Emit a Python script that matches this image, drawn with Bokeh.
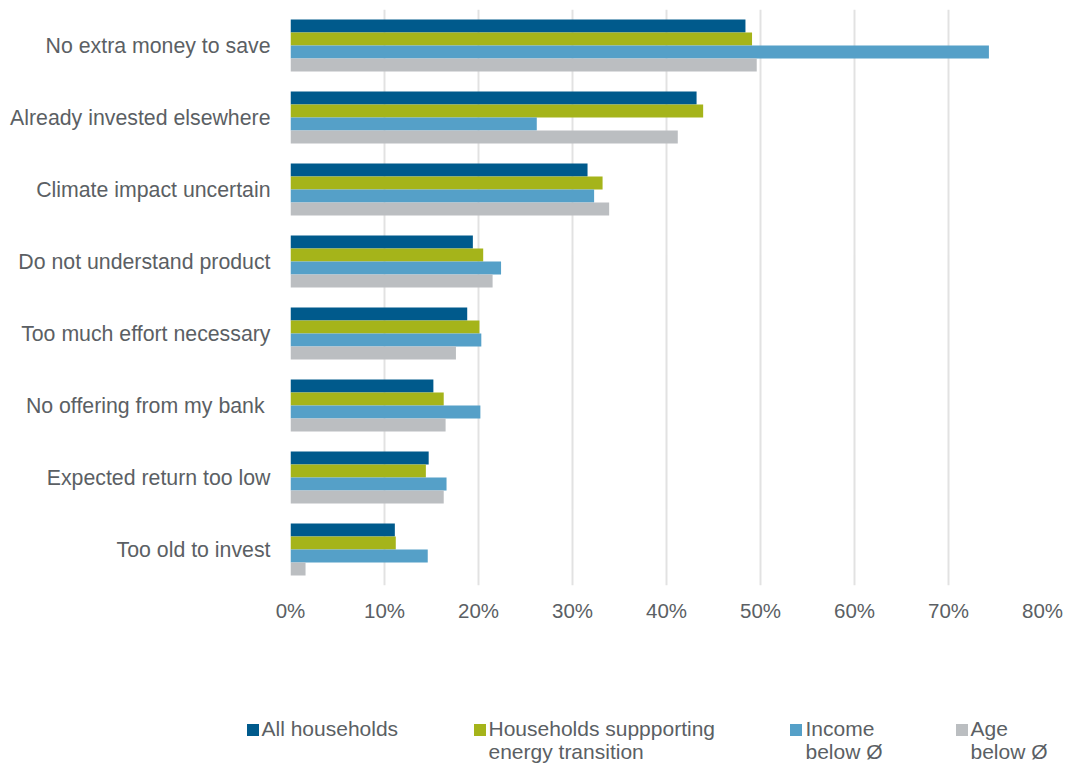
from bokeh.plotting import figure
from bokeh.layouts import column
from bokeh.models import (ColumnDataSource, FactorRange, Range1d, Legend, LegendItem,
                          Label, PrintfTickFormatter, FixedTicker)
from bokeh.transform import dodge
from bokeh.embed import file_html
from bokeh.resources import INLINE

categories = ["No extra money to save", "Already invested elsewhere", "Climate impact uncertain",
              "Do not understand product", "Too much effort necessary", "No offering from my bank ",
              "Expected return too low", "Too old to invest"]
all_households = [48.4, 43.2, 31.6, 19.4, 18.8, 15.2, 14.7, 11.1]
supporting = [49.1, 43.9, 33.2, 20.5, 20.1, 16.3, 14.4, 11.2]
income_below = [74.3, 26.2, 32.3, 22.4, 20.3, 20.2, 16.6, 14.6]
age_below = [49.6, 41.2, 33.9, 21.5, 17.6, 16.5, 16.3, 1.6]
x_ticks = [0, 10, 20, 30, 40, 50, 60, 70, 80]

series_names = ["All households", "Households suppporting", "Income", "Age"]
series_second = ["", "energy transition", "below Ø", "below Ø"]
colors = ["#005A8C", "#A5B41A", "#55A0C8", "#BBBEC1"]

FONT = "Liberation Sans"
TXT = "#5B5F64"

src = ColumnDataSource(dict(cat=categories, a=all_households, s=supporting,
                            i=income_below, g=age_below))

p = figure(width=1068, height=640, output_backend="svg", toolbar_location=None,
           y_range=FactorRange(factors=categories[::-1], range_padding=0),
           x_range=Range1d(0, 80),
           min_border_left=290, min_border_right=26, min_border_top=9, min_border_bottom=55)
p.outline_line_color = None
p.background_fill_color = "white"
p.border_fill_color = "white"
p.frame_align = False

h = 13 / 72
offsets = [1.5 * h, 0.5 * h, -0.5 * h, -1.5 * h]
cols = ["a", "s", "i", "g"]
for c, off, col in zip(cols, offsets, colors):
    p.hbar(y=dodge("cat", off, range=p.y_range), left=0, right=c, height=h,
           source=src, fill_color=col, line_color=None)

# axes
p.xaxis.ticker = FixedTicker(ticks=x_ticks)
p.xaxis.formatter = PrintfTickFormatter(format="%d%%")
p.xaxis.axis_line_color = None
p.xaxis.major_tick_line_color = None
p.xaxis.minor_tick_line_color = None
p.xaxis.major_tick_out = 0
p.xaxis.major_label_standoff = 13
p.xaxis.major_label_text_font = FONT
p.xaxis.major_label_text_font_size = "20.5px"
p.xaxis.major_label_text_color = TXT

p.yaxis.axis_line_color = None
p.yaxis.major_tick_line_color = None
p.yaxis.minor_tick_line_color = None
p.yaxis.major_tick_out = 0
p.yaxis.major_label_standoff = 20
p.yaxis.major_label_text_font = FONT
p.yaxis.major_label_text_font_size = "21.3px"
p.yaxis.major_label_text_color = TXT

p.xgrid.grid_line_color = "#E2E2E2"
p.xgrid.grid_line_width = 2
p.xgrid.ticker = FixedTicker(ticks=x_ticks)
p.ygrid.grid_line_color = None

# legend strip (separate figure below the chart)
lf = figure(width=1068, height=124, output_backend="svg", toolbar_location=None,
            x_range=Range1d(0, 1068), y_range=Range1d(0, 124),
            x_axis_location=None, y_axis_location=None,
            min_border=0, min_border_left=0, min_border_right=0,
            min_border_top=0, min_border_bottom=0)
lf.outline_line_color = None
lf.grid.grid_line_color = None
lf.background_fill_color = "white"
lf.border_fill_color = "white"
lf.frame_align = False

square_left = [246, 473, 789, 955]
text_left = [261, 488, 805, 970]
for name, second, col, c, sl, tl in zip(series_names, series_second, colors, cols,
                                         square_left, text_left):
    # zero-size proxy bars: only used to give the legend its colour swatch
    r = lf.hbar(y=c, left=c, right=c, height=0, source=src,
                fill_color=col, line_color=None)
    lg = Legend(items=[LegendItem(label=name, renderers=[r])],
                location=(sl - 1.5, 23), orientation="horizontal",
                glyph_width=15, glyph_height=15, label_standoff=tl - sl - 13,
                padding=0, margin=0, spacing=0,
                border_line_alpha=0, background_fill_alpha=0,
                label_text_font=FONT, label_text_font_size="21px",
                label_text_color=TXT, label_height=15)
    lf.add_layout(lg, "center")
    if second:
        lab = Label(x=tl, y=13, x_units="screen", y_units="screen",
                    text=second, text_font=FONT, text_font_size="21px",
                    text_color=TXT, text_baseline="alphabetic", text_align="left")
        lf.add_layout(lab)

layout = column(p, lf, spacing=0)
open("out.html", "w").write(file_html(layout, INLINE))
